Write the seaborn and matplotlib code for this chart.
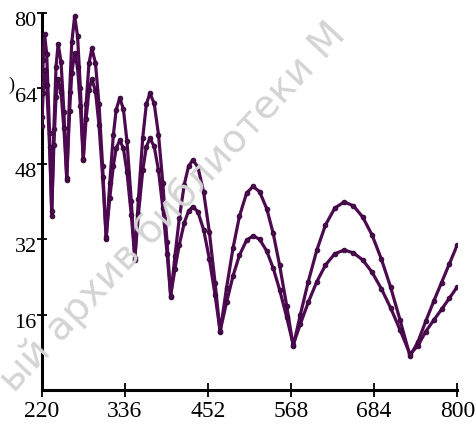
import matplotlib
matplotlib.use("Agg")
import matplotlib.pyplot as plt
import matplotlib.transforms as mtransforms
import numpy as np
import pandas as pd
import seaborn as sns

# ---- data ----
x_vals = [220, 222, 224, 227, 231, 234, 237, 240, 243, 247, 251, 255, 259, 262, 266,
          270, 274, 278, 282, 286, 290, 295, 300, 305, 310, 315, 320, 324, 329, 334,
          339, 345, 350, 355, 361, 366, 371, 377, 383, 389, 395, 400, 406, 412, 419,
          425, 431, 438, 446, 454, 462, 469, 478, 487, 496, 506, 515, 524, 534, 543,
          552, 562, 571, 581, 592, 604, 616, 629, 642, 655, 668, 681, 694, 707, 720,
          734, 745, 756, 767, 778, 789, 800]

upper_vals = [58, 70, 75.5, 71.3, 54.5, 37, 55.3, 68.6, 73.5, 69.6, 59, 44.5, 63.3, 73.8, 79.3,
              75.2, 64.1, 48.8, 60.7, 69.3, 72.5, 69.4, 60.6, 47.5, 32, 44, 54.1, 59.5, 62, 59.6,
              52.8, 40.2, 27.6, 40.6, 53.5, 60.6, 63, 60.8, 54.2, 44, 31.3, 19.8, 28.5, 36.4, 43.6,
              47.5, 48.8, 47.3, 42, 33.5, 22.7, 12.3, 21.7, 30.1, 36.9, 41.8, 43.2, 42.1, 38.5, 33.3,
              26.5, 17.8, 9.3, 16, 23, 29.7, 35, 38.6, 39.9, 39.1, 36.7, 32.9, 27.8, 21.8, 14.9,
              7.2, 10.2, 14.6, 18.8, 22.8, 26.8, 30.8]

lower_vals = [56, 63, 68, 64.7, 51.6, 38, 52, 62.2, 66, 63.2, 55.5, 45, 59.3, 67.3, 71.5,
              68.5, 60.3, 49, 57.5, 63.7, 66, 63.5, 56.2, 45.3, 32.5, 40.7, 47.6, 51.3, 53, 51.3,
              46.3, 37.2, 28, 37.3, 46.6, 51.6, 53.4, 51.7, 46.6, 38.7, 28.9, 20, 25.7, 30.8, 35.5,
              38, 38.9, 37.8, 34, 27.8, 20.1, 12.5, 18.6, 24.2, 28.6, 31.8, 32.7, 32, 29.5, 25.9,
              21.3, 15.4, 9.6, 14, 18.6, 23, 26.5, 28.9, 29.7, 29.1, 27.6, 25, 21.5, 17.4, 12.8,
              7.6, 9.4, 12.4, 14.8, 17.1, 19.5, 21.9]

x_ticks = [220, 336, 452, 568, 684, 800]
y_ticks = [16, 32, 48, 64, 80]

watermark = "ый архив библиотеки М"

# ---- style ----
sns.set_style("white")
plt.rcParams["font.family"] = ["Liberation Serif", "DejaVu Serif"]

line_color = "#4d0a50"
edge_color = "#2e0232"

fig = plt.figure(figsize=(4.77, 4.28), dpi=100)
ax = fig.add_axes([0.0874, 0.0888, 0.8713, 0.8808])

# watermark (behind)
fig.text(14 / 477, 1 - 394 / 428, watermark, rotation=47, rotation_mode="anchor",
         ha="left", va="baseline", fontsize=28, color="#d4d4d4",
         family=["DejaVu Sans"], zorder=0)

df = pd.DataFrame({"x": x_vals, "upper": upper_vals, "lower": lower_vals})
for col in ["upper", "lower"]:
    sns.lineplot(data=df, x="x", y=col, ax=ax, color=line_color, linewidth=2.3,
                 marker="o", markersize=3.4, markeredgecolor=edge_color,
                 markerfacecolor=line_color, markeredgewidth=0.6, zorder=3)

ax.patch.set_alpha(0)
ax.set_xlim(220, 800)
ax.set_ylim(0, 80)
ax.set_xticks(x_ticks)
ax.set_yticks(y_ticks)
ax.set_xticklabels([str(v) for v in x_ticks])
ax.set_yticklabels([str(v) for v in y_ticks])
ax.set_xlabel("")
ax.set_ylabel("")

for s in ["top", "right"]:
    ax.spines[s].set_visible(False)
for s in ["left", "bottom"]:
    ax.spines[s].set_visible(True)
    ax.spines[s].set_color("black")
    ax.spines[s].set_linewidth(2.2)

ax.tick_params(axis="x", bottom=True, direction="inout", length=10, width=1.3,
               colors="black", labelsize=17, pad=3)
ax.tick_params(axis="y", left=True, direction="inout", length=7, width=1.3,
               colors="black", labelsize=16, pad=0)

offset = mtransforms.ScaledTranslation(0, -4.5 / 72, fig.dpi_scale_trans)
for lab in ax.get_yticklabels():
    lab.set_transform(lab.get_transform() + offset)

fig.text(11 / 477, 1 - 85 / 428, ")", fontsize=13, color="black",
         ha="center", va="center")

fig.savefig("out.png", dpi=100)
